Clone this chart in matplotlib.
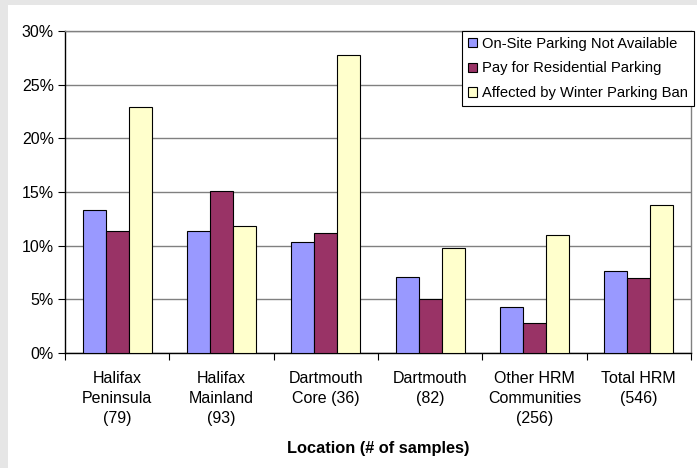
import matplotlib
matplotlib.use("Agg")
import matplotlib.pyplot as plt
import numpy as np
from matplotlib.patches import Rectangle
from matplotlib.ticker import PercentFormatter

plt.rcParams['font.family'] = ['Liberation Sans', 'DejaVu Sans']

locations = ["Halifax\nPeninsula\n(79)", "Halifax\nMainland\n(93)", "Dartmouth\nCore (36)",
             "Dartmouth\n(82)", "Other HRM\nCommunities\n(256)", "Total HRM\n(546)"]
series_names = ["On-Site Parking Not Available", "Pay for Residential Parking",
                "Affected by Winter Parking Ban"]
onsite = [13.3, 11.4, 10.3, 7.1, 4.3, 7.6]
pay = [11.4, 15.1, 11.2, 5.0, 2.8, 7.0]
winter = [22.9, 11.8, 27.8, 9.8, 11.0, 13.8]
colors = ["#9999FF", "#993366", "#FFFFCC"]

W, H = 697, 468
fig = plt.figure(figsize=(W / 100, H / 100), dpi=100)
fig.patch.set_facecolor("#E6E6E6")
# white chart area, leaving a thin grey strip on the left and top
fig.add_artist(Rectangle((8 / W, 0), 1 - 8 / W, 1 - 5 / H, transform=fig.transFigure,
                         facecolor="white", edgecolor="none", zorder=0))

ax = fig.add_axes([65 / W, (H - 353) / H, 626 / W, 322 / H])
ax.set_facecolor("white")

x = np.arange(len(locations))
bw = 0.22
for i, (vals, name) in enumerate(zip([onsite, pay, winter], series_names)):
    ax.bar(x + (i - 1) * bw, vals, bw, color=colors[i], edgecolor="black",
           linewidth=0.8, label=name, zorder=3)

ax.set_xlim(-0.5, len(locations) - 0.5)
ax.set_ylim(0, 30)
ax.set_yticks(np.arange(0, 31, 5))
ax.yaxis.set_major_formatter(PercentFormatter(decimals=0))
ax.grid(axis="y", color="#808080", linewidth=1.0, zorder=0)

# tick marks between groups, labels under group centres
ax.set_xticks(np.arange(-0.5, len(locations), 1.0))
ax.set_xticklabels([])
ax.set_xticks(x, minor=True)
ax.set_xticklabels(locations, minor=True, fontsize=11.5, linespacing=1.42)
ax.tick_params(axis="x", which="minor", length=0, pad=13)
ax.tick_params(axis="x", which="major", length=5, width=0.8, direction="out")
ax.tick_params(axis="y", length=5, width=0.8, labelsize=11.5, pad=3)

for s in ["left", "bottom"]:
    ax.spines[s].set_color("black")
    ax.spines[s].set_linewidth(1.0)
for s in ["top", "right"]:
    ax.spines[s].set_color("#808080")
    ax.spines[s].set_linewidth(1.0)

ax.set_xlabel("Location (# of samples)", fontsize=11.8, fontweight="bold", labelpad=11)

leg = ax.legend(loc="upper right", bbox_to_anchor=(1.005, 1.0), fontsize=10.6,
                frameon=True, fancybox=False, framealpha=1, edgecolor="black",
                handlelength=0.6, handleheight=0.6, handletextpad=0.35,
                labelspacing=0.72, borderpad=0.4, borderaxespad=0)
leg.get_frame().set_linewidth(0.8)
leg.set_zorder(5)

fig.savefig("out.png", dpi=100, facecolor=fig.get_facecolor())
